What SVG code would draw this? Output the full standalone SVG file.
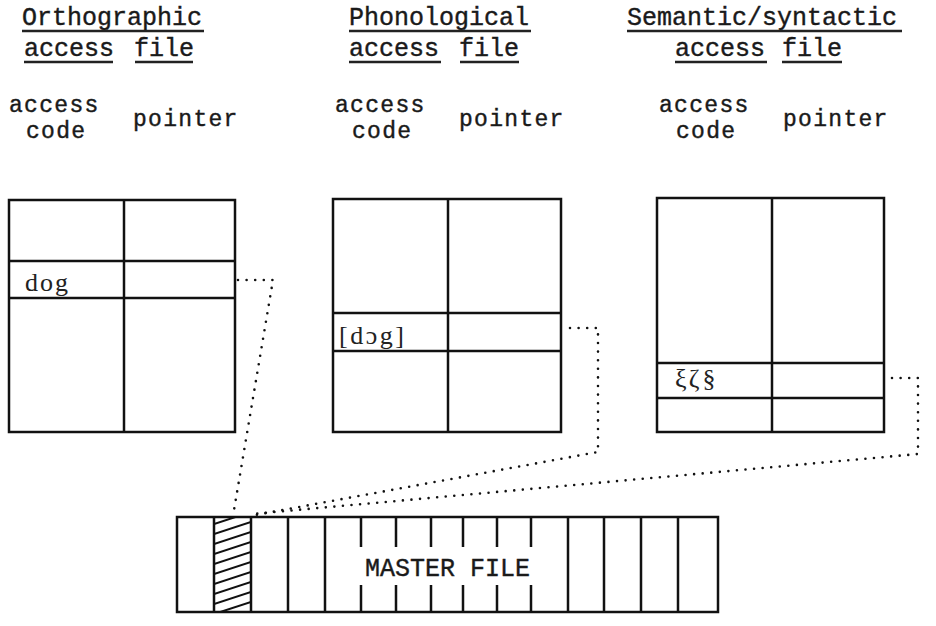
<svg xmlns="http://www.w3.org/2000/svg" width="936" height="626" viewBox="0 0 936 626">
<style>
  .tw { font-family: "Liberation Mono", "DejaVu Sans Mono", monospace; font-size: 25px; fill: #1a1a1a; stroke: #1a1a1a; stroke-width: 0.4; }
  .hd { font-size: 23px; letter-spacing: 1.3px; }
  .sr { font-family: "Liberation Serif", "DejaVu Serif", serif; font-size: 26px; fill: #222; }
  .ul { stroke: #222; stroke-width: 2.5; fill: none; }
  .box { fill: #fff; stroke: #111; stroke-width: 2.5; }
  .ln { stroke: #111; stroke-width: 2.5; fill: none; }
  .dot { stroke: #111; stroke-width: 2.6; fill: none; stroke-linecap: round; stroke-dasharray: 0 8.6; stroke-linejoin: round; }
  .hatch { stroke: #111; stroke-width: 2; }
</style>
<defs>
  <clipPath id="hclip"><rect x="214" y="517" width="37" height="95"/></clipPath>
</defs>
<rect width="936" height="626" fill="#fff"/>

<g id="title-ortho">
  <text class="tw" x="22" y="25">Orthographic</text>
  <line class="ul" x1="22" y1="31" x2="204" y2="31"/>
  <text class="tw" x="24" y="56">access</text>
  <line class="ul" x1="24" y1="62" x2="113" y2="62"/>
  <text class="tw" x="134" y="56">file</text>
  <line class="ul" x1="135" y1="62" x2="193" y2="62"/>
</g>
<g id="title-phono">
  <text class="tw" x="349" y="25">Phonological</text>
  <line class="ul" x1="349" y1="31" x2="531" y2="31"/>
  <text class="tw" x="349" y="56">access</text>
  <line class="ul" x1="349" y1="62" x2="441" y2="62"/>
  <text class="tw" x="459" y="56">file</text>
  <line class="ul" x1="460" y1="62" x2="519" y2="62"/>
</g>
<g id="title-sem">
  <text class="tw" x="627" y="25">Semantic/syntactic</text>
  <line class="ul" x1="627" y1="31" x2="902" y2="31"/>
  <text class="tw" x="675" y="56">access</text>
  <line class="ul" x1="675" y1="62" x2="767" y2="62"/>
  <text class="tw" x="782" y="56">file</text>
  <line class="ul" x1="782" y1="62" x2="842" y2="62"/>
</g>

<g id="ortho-file">
  <text class="tw hd" x="9" y="112">access</text>
  <text class="tw hd" x="26" y="138">code</text>
  <text class="tw hd" x="133" y="126">pointer</text>
  <rect class="box" x="9" y="200" width="226" height="232"/>
  <line class="ln" x1="124" y1="200" x2="124" y2="432"/>
  <line class="ln" x1="9" y1="261" x2="235" y2="261"/>
  <line class="ln" x1="9" y1="298" x2="235" y2="298"/>
  <text class="sr" x="25" y="291" letter-spacing="2">dog</text>
</g>

<g id="phono-file">
  <text class="tw hd" x="335" y="112">access</text>
  <text class="tw hd" x="352" y="138">code</text>
  <text class="tw hd" x="459" y="126">pointer</text>
  <rect class="box" x="333" y="199" width="228" height="233"/>
  <line class="ln" x1="448" y1="199" x2="448" y2="432"/>
  <line class="ln" x1="333" y1="313" x2="561" y2="313"/>
  <line class="ln" x1="333" y1="351" x2="561" y2="351"/>
  <text class="sr" x="339" y="344" letter-spacing="2.5">[dɔg]</text>
</g>

<g id="sem-file">
  <text class="tw hd" x="659" y="112">access</text>
  <text class="tw hd" x="676" y="138">code</text>
  <text class="tw hd" x="783" y="126">pointer</text>
  <rect class="box" x="657" y="198" width="227" height="234"/>
  <line class="ln" x1="772" y1="198" x2="772" y2="432"/>
  <line class="ln" x1="657" y1="363" x2="884" y2="363"/>
  <line class="ln" x1="657" y1="398" x2="884" y2="398"/>
  <text class="sr" x="675" y="387" font-size="19" letter-spacing="3">ξζ§</text>
</g>

<g id="master-file">
  <rect class="box" x="177" y="517" width="541" height="95"/>
  <g clip-path="url(#hclip)">
    <line class="hatch" x1="214" y1="524" x2="251" y2="512"/>
    <line class="hatch" x1="214" y1="534" x2="251" y2="522"/>
    <line class="hatch" x1="214" y1="544" x2="251" y2="532"/>
    <line class="hatch" x1="214" y1="554" x2="251" y2="542"/>
    <line class="hatch" x1="214" y1="564" x2="251" y2="552"/>
    <line class="hatch" x1="214" y1="574" x2="251" y2="562"/>
    <line class="hatch" x1="214" y1="584" x2="251" y2="572"/>
    <line class="hatch" x1="214" y1="594" x2="251" y2="582"/>
    <line class="hatch" x1="214" y1="604" x2="251" y2="592"/>
    <line class="hatch" x1="214" y1="614" x2="251" y2="602"/>
    <line class="hatch" x1="214" y1="624" x2="251" y2="612"/>
  </g>
  <path class="ln" d="M214 517V612M251 517V612M288 517V612M325 517V612M568 517V612M604 517V612M641 517V612M678 517V612"/>
  <path class="ln" d="M361 517V547M396 517V547M431 517V547M463 517V547M497 517V547M531 517V547M361 585V612M396 585V612M431 585V612M463 585V612M497 585V612M531 585V612"/>
  <text class="tw" x="365" y="576">MASTER FILE</text>
</g>

<g id="connectors">
  <path class="dot" d="M238 280H273L233 516"/>
  <path class="dot" d="M570 328H598V452L250 516"/>
  <path class="dot" d="M892 378H918V454L252 514"/>
</g>
</svg>
